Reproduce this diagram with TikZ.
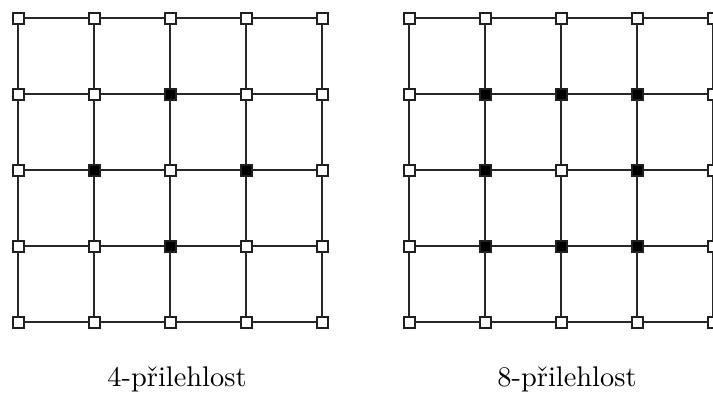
\documentclass[tikz,border=0pt]{standalone}
\begin{document}
\begin{tikzpicture}[x=1pt,y=-1pt,
  pix/.style={draw=black!88,line width=2pt,fill=white,minimum size=11pt,inner sep=0pt,outer sep=0pt},
  onpix/.style={pix,fill=black},
  gridline/.style={draw=black!85,line width=2pt},
  caption/.style={font=\normalsize,scale=2.84,inner sep=0pt,anchor=base}]
\useasboundingbox (0,0) rectangle (713,392);
\clip (0,0) rectangle (713,392);
% 4-neighbourhood grid
\foreach \i in {0,...,4}{
  \foreach \j in {0,...,4}{
    \node[pix] (L\i\j) at (18+76*\i,18+76*\j) {};
  }
}
\foreach \i/\j in {2/1,1/2,3/2,2/3}{
  \node[onpix] at (L\i\j) {};
}
% 8-neighbourhood grid
\foreach \i in {0,...,4}{
  \foreach \j in {0,...,4}{
    \node[pix] (R\i\j) at (409+76*\i,18+76*\j) {};
  }
}
\foreach \i/\j in {1/1,2/1,3/1,1/2,3/2,1/3,2/3,3/3}{
  \node[onpix] at (R\i\j) {};
}
% grid lines between neighbouring pixels
\foreach \g in {L,R}{
  \foreach \i in {0,...,4}{
    \foreach \a/\b in {0/1,1/2,2/3,3/4}{
      \draw[gridline] (\g\a\i) -- (\g\b\i);
      \draw[gridline] (\g\i\a) -- (\g\i\b);
    }
  }
}
\node[caption] (capL) at (177,386) {4-přilehlost};
\node[caption] (capR) at (567,386) {8-přilehlost};
\end{tikzpicture}
\end{document}
